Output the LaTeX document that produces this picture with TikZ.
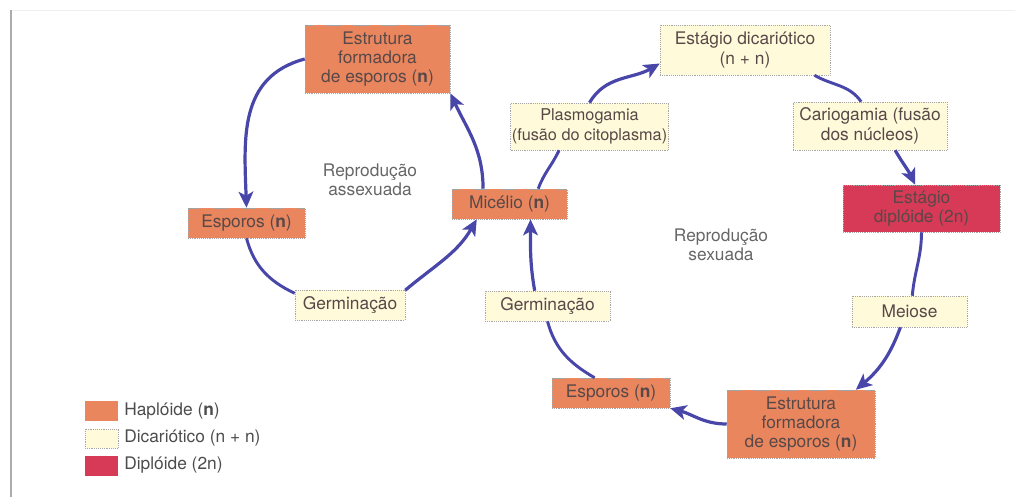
\documentclass[tikz,border=0pt]{standalone}
\usepackage{fontspec}
\setmainfont{TeX Gyre Heros}
\usetikzlibrary{arrows.meta, positioning}
\definecolor{haplo}{RGB}{233,134,94}
\definecolor{dicar}{RGB}{255,250,218}
\definecolor{diplo}{RGB}{214,58,86}
\definecolor{cycleblue}{RGB}{72,70,168}
\definecolor{inktext}{RGB}{88,72,72}
\tikzstyle{block} = [rectangle, draw=gray!70, densely dotted, text=inktext,
    align=center, inner sep=1pt, font=\fontsize{13}{14.5}\selectfont]
\tikzstyle{haplobox} = [block, fill=haplo]
\tikzstyle{dicarbox} = [block, fill=dicar]
\tikzstyle{diplobox} = [block, fill=diplo]
\tikzstyle{caption} = [align=center, text=black!60, font=\fontsize{13}{14.5}\selectfont]
\tikzstyle{keytext} = [anchor=west, text=black!70, font=\fontsize{13}{14.5}\selectfont]
\tikzstyle{line} = [draw, cycleblue, line width=2.4pt, -{Stealth[length=12pt, width=11pt, inset=3pt]}]
\tikzstyle{link} = [draw, cycleblue, line width=2.2pt]

\begin{document}
\begin{tikzpicture}[x=0.75pt, y=0.75pt, node distance=1pt]
  \useasboundingbox (0,0) rectangle (1015,-497);
  % Frame
  \draw[gray!65, line width=1.5pt] (11,-10) -- (11,-497);
  \draw[gray!12, line width=0.75pt] (12,-10) -- (1015,-10);

  % Place nodes
  % Asexual cycle
  \node[haplobox, minimum width=108.75pt, minimum height=51pt] (estr1) at (377.5,-59) {Estrutura\\formadora\\de esporos (\textbf{n})};
  \node[haplobox, minimum width=87.75pt, minimum height=22.5pt] (esp1) at (246.5,-223) {Esporos (\textbf{n})};
  \node[dicarbox, minimum width=82.5pt, minimum height=22.5pt] (germ1) at (350,-305) {Germinação};
  \node[haplobox, minimum width=86.25pt, minimum height=22.5pt] (mic) at (509.5,-204) {Micélio (\textbf{n})};
  \node[caption] (asex) at (370,-180) {Reprodução\\assexuada};
  % Sexual cycle
  \node[dicarbox, minimum width=116.25pt, minimum height=35.25pt, font=\fontsize{12.2}{14.5}\selectfont] (plas) at (589.5,-126.5) {Plasmogamia\\(fusão do citoplasma)};
  \node[dicarbox, minimum width=127.5pt, minimum height=37.5pt] (dicar) at (745,-50) {Estágio dicariótico\\(n + n)};
  \node[dicarbox, minimum width=115.5pt, minimum height=36pt] (cario) at (870,-126) {Cariogamia (fusão\\dos núcleos)};
  \node[diplobox, minimum width=117.75pt, minimum height=35.25pt] (dipl) at (921.5,-208.5) {Estágio\\diplóide (2n)};
  \node[dicarbox, minimum width=86.25pt, minimum height=23.25pt] (meiose) at (909.5,-311.5) {Meiose};
  \node[haplobox, minimum width=111pt, minimum height=51pt] (estr2) at (801,-424) {Estrutura\\formadora\\de esporos (\textbf{n})};
  \node[haplobox, minimum width=88.5pt, minimum height=22.5pt] (esp2) at (611,-393) {Esporos (\textbf{n})};
  \node[dicarbox, minimum width=93.75pt, minimum height=22.5pt] (germ2) at (547.5,-306) {Germinação};
  \node[caption] (sex) at (721,-245) {Reprodução\\sexuada};
  % Key
  \node[haplobox, draw=none, minimum width=24.75pt, minimum height=15pt] (hapkey) at (101.5,-411) {};
  \node[dicarbox, minimum width=24.75pt, minimum height=14.5pt] (dickey) at (101.5,-438.5) {};
  \node[diplobox, draw=none, minimum width=24.75pt, minimum height=15pt] (dipkey) at (101.5,-465.5) {};
  \node[keytext, right=of hapkey] (haplabel) {Haplóide (\textbf{n})};
  \node[keytext, right=of dickey] (diclabel) {Dicariótico (n + n)};
  \node[keytext, right=of dipkey] (diplabel) {Diplóide (2n)};

  % Draw edges
  \path [line] (estr1.west) to[out=195, in=92, looseness=1.1] (esp1.north);
  \path [link] (esp1.south) to[out=-75, in=155] (germ1.168);
  \path [line] (germ1.15) to[out=40, in=240] (mic.205);
  \path [line] (mic.150) to[out=90, in=-65] (estr1.south east);

  \path [link] (mic.28) to[out=70, in=-115] (plas.218);
  \path [line] (plas.north) to[out=60, in=210] (dicar.189);
  \path [link] (dicar.-20) to[out=-30, in=125] (cario.110);
  \path [line] (cario.-44) to[out=-60, in=115] (dipl.105);
  \path [link] (dipl.south) to[out=-90, in=85] (meiose.80);
  \path [line] (meiose.-120) to[out=-110, in=40] (estr2.32);
  \path [line] (estr2.west) to[out=180, in=-15] (esp2.south east);
  \path [link] (esp2.137) to[out=150, in=-75] (germ2.south);
  \path [line] (germ2.130) to[out=100, in=-90] (mic.-36);
\end{tikzpicture}
\end{document}
